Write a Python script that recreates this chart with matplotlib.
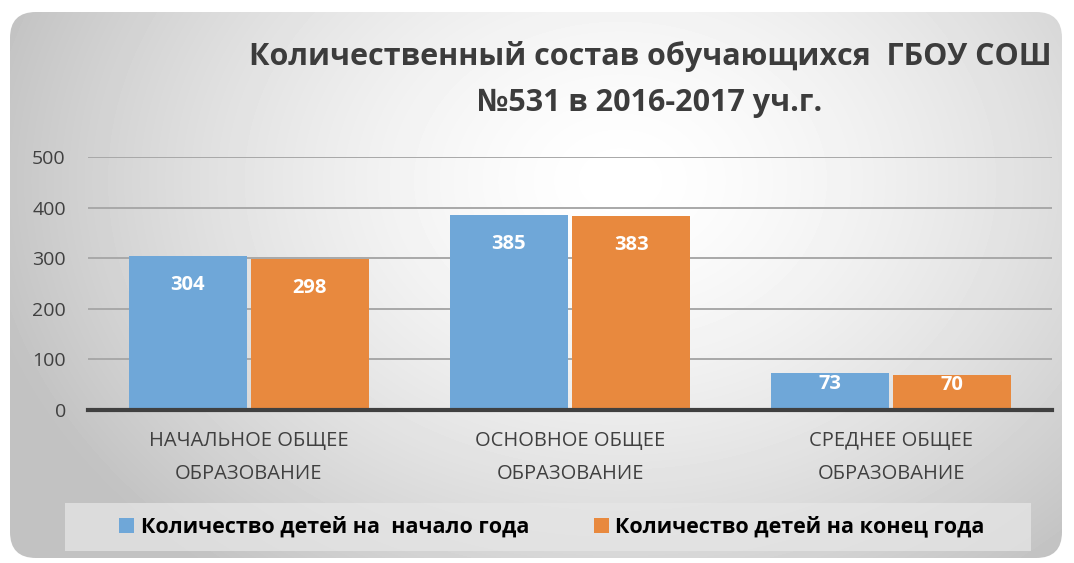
import matplotlib
matplotlib.use("Agg")
import matplotlib.pyplot as plt
import numpy as np
from matplotlib.patches import FancyBboxPatch, Rectangle

plt.rcParams["font.family"] = ["Open Sans", "DejaVu Sans"]

categories = ["НАЧАЛЬНОЕ ОБЩЕЕ\nОБРАЗОВАНИЕ", "ОСНОВНОЕ ОБЩЕЕ\nОБРАЗОВАНИЕ", "СРЕДНЕЕ ОБЩЕЕ\nОБРАЗОВАНИЕ"]
start_year = [304, 385, 73]
end_year = [298, 383, 70]
series_names = ["Количество детей на  начало года", "Количество детей на конец года"]
title_lines = ["Количественный состав обучающихся  ГБОУ СОШ", "№531 в 2016-2017 уч.г."]
yticks = [0, 100, 200, 300, 400, 500]

BLUE = "#6fa7d8"
ORANGE = "#e8893e"
W, H = 1074, 563

fig = plt.figure(figsize=(W / 100, H / 100), dpi=100)
fig.patch.set_facecolor("white")

# background panel with soft radial grey gradient
bg = fig.add_axes([0, 0, 1, 1], zorder=-5)
bg.set_xlim(0, W)
bg.set_ylim(H, 0)
bg.axis("off")
yy, xx = np.mgrid[0:H, 0:W]
r = np.sqrt(((xx - 620) / 650.0) ** 2 + ((yy - 180) / 500.0) ** 2)
shade = 1.0 - 0.24 * np.clip(r, 0, 1) ** 1.5
img = bg.imshow(shade, cmap="gray", vmin=0, vmax=1, extent=(0, W, H, 0), aspect="auto")
panel = FancyBboxPatch((10, 12), 1052, 546, boxstyle="round,pad=0,rounding_size=26",
                       transform=bg.transData, facecolor="none", edgecolor="none")
bg.add_patch(panel)
img.set_clip_path(panel)

# legend band
bg.add_patch(Rectangle((65, 503), 966, 48, facecolor="#e6e6e6", alpha=0.75, edgecolor="none"))

ax = fig.add_axes([88 / W, (H - 410) / H, 964 / W, 253 / H])
ax.set_facecolor("none")
x = np.arange(len(categories))
width = 0.367
off = 0.19
b1 = ax.bar(x - off, start_year, width, color=BLUE, label=series_names[0], zorder=3)
b2 = ax.bar(x + off, end_year, width, color=ORANGE, label=series_names[1], zorder=3)

for bars, vals in ((b1, start_year), (b2, end_year)):
    for bar, v in zip(bars, vals):
        ypos = max(v - 56, v * 0.7)
        ax.text(bar.get_x() + bar.get_width() / 2, ypos, str(v), ha="center", va="center",
                color="white", fontsize=14.5, fontweight="bold", zorder=4)

ax.set_xlim(-0.5, 2.5)
ax.set_ylim(0, 500)
ax.set_yticks(yticks)
ax.yaxis.grid(True, color="#a8a8a8", linewidth=1.4, zorder=1)
ax.set_axisbelow(True)
for s in ("top", "right", "left"):
    ax.spines[s].set_visible(False)
ax.spines["bottom"].set_color("#404040")
ax.spines["bottom"].set_linewidth(3)
ax.spines["bottom"].set_zorder(5)
ax.tick_params(axis="y", length=0, pad=16, labelsize=14, labelcolor="#404040")
ax.tick_params(axis="x", length=0, pad=15, labelsize=14.5, labelcolor="#404040")
ax.set_xticks(x)
ax.set_xticklabels(categories, linespacing=1.85)

fig.text(650 / W, 1 - 57 / H, title_lines[0], ha="center", va="center",
         fontsize=22, fontweight="bold", color="#3c3c3c")
fig.text(650 / W, 1 - 103 / H, title_lines[1], ha="center", va="center",
         fontsize=22, fontweight="bold", color="#3c3c3c")

leg = fig.legend(handles=[b1, b2], labels=series_names, loc="center",
                 bbox_to_anchor=(552 / W, 1 - 527 / H), ncol=2, frameon=False,
                 handlelength=0.7, handleheight=0.7, handletextpad=0.3, columnspacing=3.0,
                 prop={"size": 15.5, "weight": "bold"})

fig.savefig("out.png", dpi=100, facecolor="white")
